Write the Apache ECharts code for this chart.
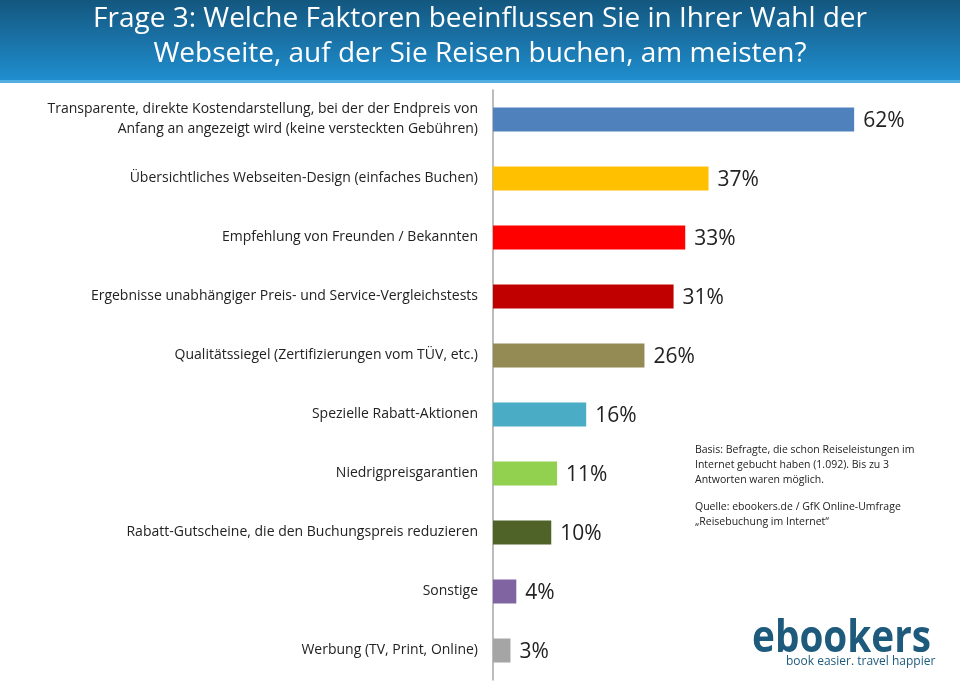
<!DOCTYPE html>
<html><head><meta charset="utf-8">
<script src="https://cdn.jsdelivr.net/npm/echarts@6/dist/echarts.min.js"></script>
<style>html,body{margin:0;padding:0;background:#fff}#c{width:960px;height:681px}</style>
</head><body><div id="c"></div>
<script>
const categories = [
  "Transparente, direkte Kostendarstellung, bei der der Endpreis von\nAnfang an angezeigt wird (keine versteckten Gebühren)",
  "Übersichtliches Webseiten-Design (einfaches Buchen)",
  "Empfehlung von Freunden / Bekannten",
  "Ergebnisse unabhängiger Preis- und Service-Vergleichstests",
  "Qualitätssiegel (Zertifizierungen vom TÜV, etc.)",
  "Spezielle Rabatt-Aktionen",
  "Niedrigpreisgarantien",
  "Rabatt-Gutscheine, die den Buchungspreis reduzieren",
  "Sonstige",
  "Werbung (TV, Print, Online)"
];
const values = [62, 37, 33, 31, 26, 16, 11, 10, 4, 3];
const barColors = ["#4f81bd","#ffc000","#ff0000","#c00000","#948a54","#4bacc6","#92d050","#4f6228","#8064a2","#a5a5a5"];
const titleText = "Frage 3: Welche Faktoren beeinflussen Sie in Ihrer Wahl der\nWebseite, auf der Sie Reisen buchen, am meisten?";
const noteBasis = "Basis: Befragte, die schon Reiseleistungen im\nInternet gebucht haben (1.092). Bis zu 3\nAntworten waren möglich.";
const noteSource = "Quelle: ebookers.de / GfK Online-Umfrage\n„Reisebuchung im Internet“";

const chart = echarts.init(document.getElementById('c'));
chart.setOption({
  animation: false,
  backgroundColor: '#fff',
  title: {
    text: titleText, left: 'center', top: 0, padding: [2, 5, 5, 5],
    textStyle: { color: '#fff', fontFamily: 'Open Sans', fontWeight: 'normal', fontSize: 28, lineHeight: 35 }
  },
  graphic: [
    { type: 'rect', z: -1, shape: { x: 0, y: 0, width: 960, height: 82 },
      style: { fill: new echarts.graphic.LinearGradient(0,0,0,1,[{offset:0,color:'#13577f'},{offset:0.5,color:'#1a73a8'},{offset:1,color:'#1f8fd0'}]) } },
    { type: 'rect', z: -1, shape: { x: 0, y: 80, width: 960, height: 3 }, style: { fill: '#52aee0' } },
    { type: 'text', left: 695, top: 443, style: { text: noteBasis, fill: '#222', font: '10.5px "Open Sans"', lineHeight: 15 } },
    { type: 'text', left: 695, top: 500, style: { text: noteSource, fill: '#222', font: '10.5px "Open Sans"', lineHeight: 15 } },
    { type: 'text', x: 752, y: 617, scaleX: 0.88, style: { text: 'ebookers', fill: '#1d5a7c', font: 'bold 44px "Open Sans"' } },
    { type: 'text', x: 786, y: 656, style: { text: 'book easier. travel happier', fill: '#1d5a7c', font: '12px "Open Sans"' } }
  ],
  grid: { left: 493, right: 1, top: 90, bottom: 1, containLabel: false },
  xAxis: { type: 'value', min: 0, max: 80, show: false },
  yAxis: {
    type: 'category', inverse: true, data: categories,
    axisLine: { show: true, lineStyle: { color: '#a6a6a6', width: 1.5 } },
    axisTick: { show: false },
    axisLabel: { color: '#222', fontFamily: 'Open Sans', fontSize: 14, margin: 15, align: 'right', lineHeight: 20 }
  },
  series: [{
    type: 'bar', barWidth: 24,
    data: values.map((v,i)=>({ value: v, itemStyle: { color: barColors[i] } })),
    label: { show: true, position: 'right', distance: 9, offset: [0, 2], formatter: '{c}%', color: '#222', fontFamily: 'Open Sans', fontSize: 21 }
  }]
});
</script></body></html>
